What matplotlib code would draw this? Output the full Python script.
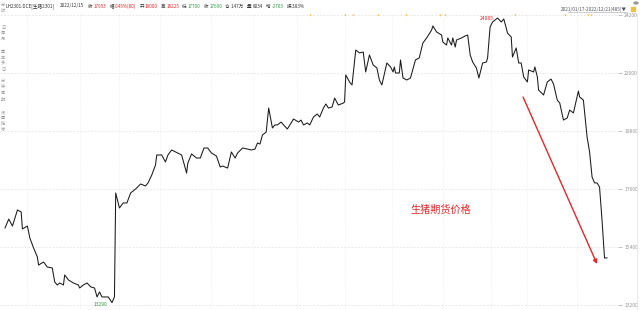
import matplotlib
matplotlib.use("Agg")
import matplotlib.pyplot as plt
from matplotlib.lines import Line2D

plt.rcParams['font.family'] = ['Noto Sans CJK SC', 'DejaVu Sans']

# ---------------- data ----------------
day_idx = [0, 3, 6, 10, 13, 14, 18, 20, 23, 26, 27, 31, 34, 38, 40, 42, 44, 47, 48, 51,
           55, 59, 60, 63, 66, 69, 72, 74, 76, 78, 83, 86, 88, 89, 92, 95, 98, 101, 105, 109,
           113, 115, 118, 121, 122, 126, 129, 131, 134, 142, 146, 147, 150, 154, 157, 160, 163, 166, 170, 173,
           175, 179, 182, 185, 187, 191, 195, 198, 201, 203, 205, 207, 210, 212, 215, 217, 219, 222, 224, 227,
           229, 232, 236, 238, 240, 243, 245, 248, 251, 253, 256, 258, 260, 263, 265, 268, 272, 273, 274, 277,
           279, 281, 282, 285, 288, 290, 293, 296, 299, 301, 303, 307, 310, 312, 313, 314, 317, 318, 320, 323,
           326, 330, 333, 336, 339, 343, 344, 347, 351, 352, 355, 356, 359, 360, 362, 363, 367, 370, 372, 374,
           376, 379, 380, 381, 384, 387, 388, 390, 392, 396, 399, 401, 403, 404, 407, 408, 411, 413, 415, 417,
           420, 421, 425, 426, 428, 429, 433, 436, 439, 441, 444, 446, 449, 452, 454, 457, 461, 462, 465, 468,
           470, 472, 474, 476, 478, 480, 482, 484]
prices = [16120, 16460, 16195, 16805, 16730, 16085, 16195, 15740, 15360, 15020, 14715, 14830, 14640, 14605, 14070, 13960, 14035, 13960, 14340, 14150,
          14035, 13960, 13845, 13960, 14035, 13885, 13845, 13505, 13695, 13505, 13505, 13290, 13505, 17450, 16880, 17070, 17070, 17450, 17600, 17790,
          17715, 17830, 18130, 18510, 18890, 18890, 18625, 18890, 19080, 18890, 18205, 18585, 18930, 18775, 18775, 19155, 19155, 18965, 18850, 18435,
          18470, 18395, 19005, 18775, 18965, 19155, 19115, 19080, 19115, 19345, 19305, 19650, 19760, 20670, 19915, 20030, 20030, 20140, 20030, 19875,
          20030, 20255, 20140, 20215, 20030, 20105, 20030, 20330, 20445, 20330, 20670, 20825, 20670, 20710, 21050, 20785, 20860, 20900, 21925, 21660,
          21545, 22415, 22870, 22760, 22795, 22040, 22685, 22305, 22190, 21735, 21545, 22380, 22230, 22040, 22230, 22000, 22000, 22495, 21810, 21735,
          21810, 22495, 22570, 23140, 23330, 23630, 23785, 23555, 23440, 23175, 23060, 23330, 23060, 23330, 22985, 23250, 23330, 23405, 23440, 22685,
          22415, 22190, 22000, 21810, 22380, 22415, 22570, 23745, 23935, 24085, 23935, 24050, 23705, 23515, 23365, 22605, 22950, 22380, 22380, 21850,
          21660, 22115, 22040, 22230, 21850, 21355, 21165, 21660, 21770, 21585, 20975, 20860, 20215, 20295, 20595, 20485, 21315, 21090, 20975, 19570,
          19005, 18055, 17830, 17830, 17675, 16425, 14985, 14985]

y_ticks = [13200, 15400, 17600, 19800, 22000, 24200]
month_lines = [18, 60, 92, 125, 166, 199, 235, 273, 311, 352, 391, 420, 460]
event_marks = [245, 273, 280, 300, 322, 350, 354, 410, 450, 469, 471]

title_code = "LH2301.DCE[生猪2301]"
title_date = "2022/12/15"
header_labels = ['收', '幅', '开', '高', '低', '收', '仓', '量', '增', '振']
header_values = ['17953', '0.45%(80)', '18000', '18225', '17700', '17690', '1.47万', '8034', '-2703', '3.83%']
range_text = "2021/01/17-2022/12/21(485)▼"
annot_text = "生猪期货价格"
side_chars = ['分', '时', '日', '周', '月', '季', '年', '多', '日', '分', '钟', '周', '期', '设', '置', '指', '标']

RED = '#e8262a'
GREEN = '#2e9e3e'
DARK = '#333333'
header_colors = [RED, RED, RED, RED, GREEN, GREEN, DARK, DARK, GREEN, DARK]

# ---------------- figure ----------------
W, H = 640, 310
fig = plt.figure(figsize=(6.4, 3.1), dpi=100)
fig.patch.set_facecolor('white')

ax_left_px, ax_right_px, ax_top_px, ax_bot_px = 0, 618, 14, 310
ax = fig.add_axes([ax_left_px / W, 1 - ax_bot_px / H,
                   (ax_right_px - ax_left_px) / W, (ax_bot_px - ax_top_px) / H])

px_per_idx = (607 - 5) / (day_idx[-1] - day_idx[0])
xmin = day_idx[0] - (5 - ax_left_px) / px_per_idx
xmax = xmin + (ax_right_px - ax_left_px) / px_per_idx
ax.set_xlim(xmin, xmax)
px_per_price = 58 / 2200
ax.set_ylim(13200 - (310 - 305) / px_per_price, 13200 + (305 - ax_top_px) / px_per_price)

for s in ax.spines.values():
    s.set_visible(False)
ax.set_xticks([])
ax.set_yticks(y_ticks)
ax.yaxis.tick_right()
ax.tick_params(axis='y', labelsize=3.6, colors='#aaaaaa', length=3, width=0.5, pad=1.5)
for lab in ax.get_yticklabels():
    lab.set_color('#999999')
ax.grid(axis='y', color='#e2e2e2', linestyle=(0, (3, 2)), linewidth=0.5)
for m in month_lines:
    ax.axvline(m, color='#eeeeee', linestyle=(0, (2, 2)), linewidth=0.5, zorder=0)

ax.plot(day_idx, prices, color='#1a1a1a', linewidth=0.75, zorder=3)

# event markers on top gridline
ax.scatter(event_marks, [y_ticks[-1]] * len(event_marks), marker='v', s=2.5,
           color='#f0c040', linewidths=0, zorder=4, clip_on=False)

# high / low labels
hi_i = prices.index(max(prices))
lo_i = prices.index(min(prices))
ax.annotate(str(prices[hi_i]), xy=(day_idx[hi_i], prices[hi_i]), xytext=(-3, 0),
            textcoords='offset points', ha='right', va='center', fontsize=3.6, color=RED)
ax.annotate(str(prices[lo_i]), xy=(day_idx[lo_i], prices[lo_i]), xytext=(-3, -1),
            textcoords='offset points', ha='right', va='center', fontsize=3.6, color=GREEN)

# red arrow and text
ax.annotate('', xy=(476, 14755), xytext=(416.5, 21090),
            arrowprops=dict(arrowstyle='-|>', color=RED, lw=1.0, mutation_scale=6,
                            shrinkA=0, shrinkB=0), zorder=5)
ax.text(350, 16805, annot_text, color=RED, fontsize=7.3, ha='center', va='center')

# right border line
fig.add_artist(Line2D([637 / W, 637 / W], [0, 1 - 14 / H], color='#e6e6e6', linewidth=0.6))

# header
fig.canvas.draw()
renderer = fig.canvas.get_renderer()
hy = 1 - 6 / H
x = 5.0
def put(s, color, gap):
    global x
    t = fig.text(x / W, hy, s, fontsize=3.3, color=color, va='center', ha='left')
    x += t.get_window_extent(renderer).width + gap
put(title_code, DARK, 6)
put(title_date, DARK, 4)
for lab, val, c in zip(header_labels, header_values, header_colors):
    put(lab, DARK, 0.8)
    put(val, c, 3.2)

fig.text(627 / W, 1 - 9 / H, range_text, fontsize=3.4, color='#555566', ha='right', va='center')
fig.add_artist(Line2D([568 / W, 627 / W], [1 - 11.5 / H] * 2, color='#aaaaaa', linewidth=0.4))
fig.add_artist(plt.Rectangle((631 / W, 1 - 11 / H), 4 / W, 4 / H, color='#f0c040', transform=fig.transFigure))
fig.add_artist(plt.Circle((636 / W, 1 - 3 / H), 2 / W, color='#999999', transform=fig.transFigure))

# left sidebar
side_ys = [5, 11, 28, 33, 39, 52, 58, 63, 70, 81, 87, 93, 100, 112, 118, 124, 130]
for ch, yy in zip(side_chars, side_ys):
    fig.text(3 / W, 1 - yy / H, ch, fontsize=3.0, color='#999999', ha='center', va='center')

fig.savefig('out.png', dpi=100, facecolor='white')
